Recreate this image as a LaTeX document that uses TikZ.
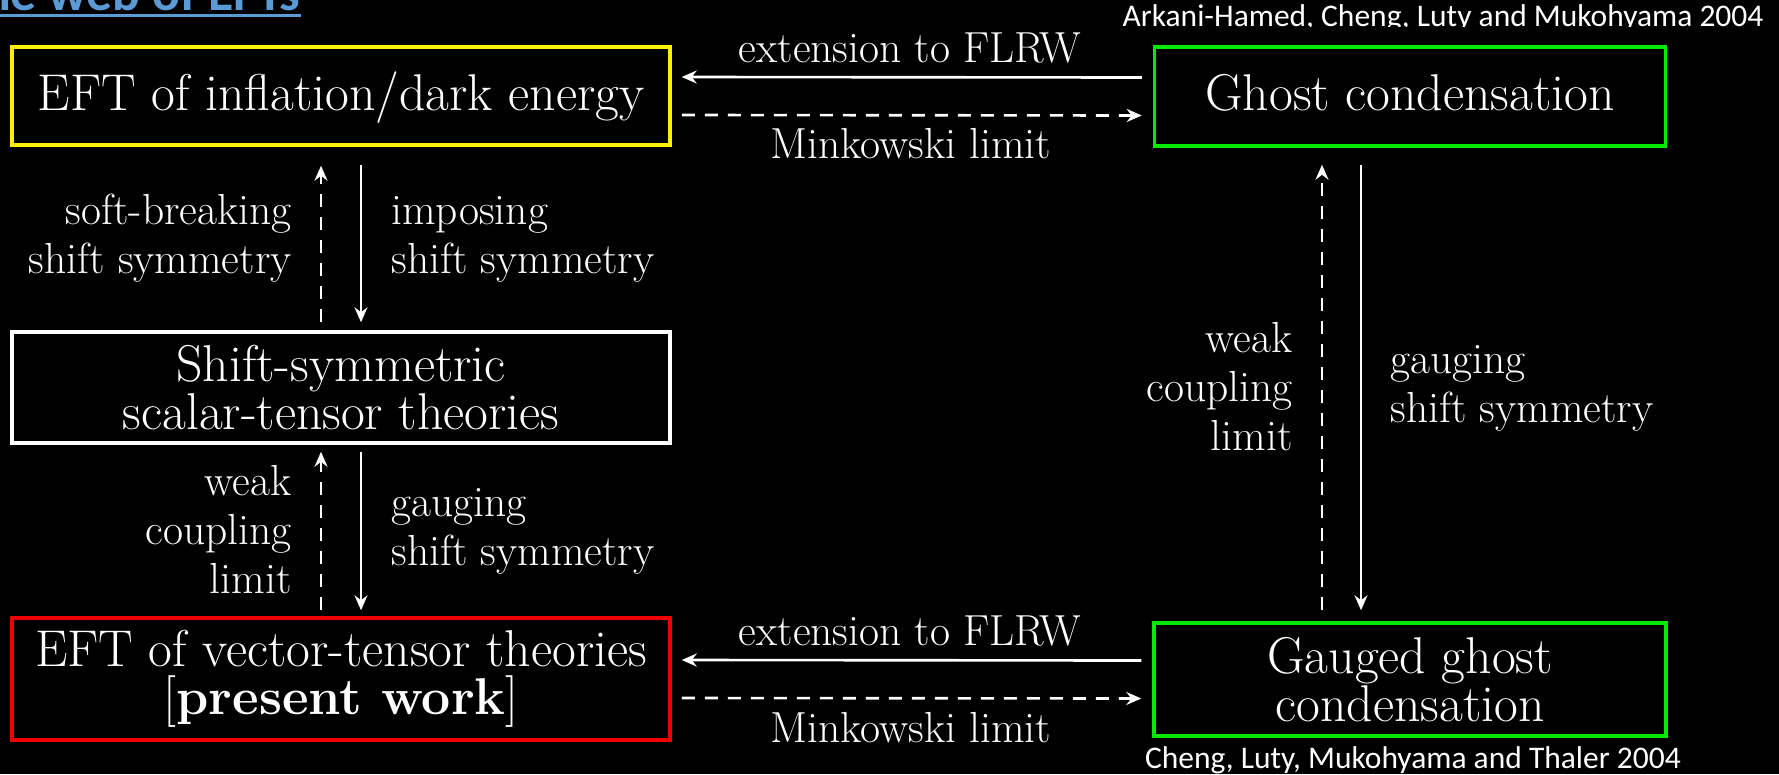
\documentclass[tikz,border=0pt]{standalone}
\usepackage{fontspec}
\newfontfamily\calibri{Carlito}
\usetikzlibrary{arrows.meta}
\definecolor{boxyellow}{RGB}{255,240,0}
\definecolor{boxgreen}{RGB}{0,235,0}
\definecolor{boxred}{RGB}{240,0,0}
\definecolor{titleblue}{RGB}{91,155,213}
\begin{document}
\begin{tikzpicture}[x=0.4pt,y=-0.4pt,
  box/.style={draw, line width=1.4pt, inner sep=0pt, text=white, align=center,
    font=\fontsize{20.7}{19.2}\selectfont},
  lbl/.style={text=white, inner sep=0pt, font=\fontsize{17.4}{19.6}\selectfont},
  sarrow/.style={draw=white, line width=1.05pt, -{Stealth[length=6pt,width=5.2pt,inset=2pt]}},
  darrow/.style={sarrow, dash pattern=on 5.2pt off 4pt},
  cite/.style={text=white, inner sep=0pt, font=\calibri\fontsize{12.6}{15}\selectfont}]
\fill[black] (0,0) rectangle (1779,774);
\useasboundingbox (0,0) rectangle (1779,774);

% title (partly off the page)
\node[anchor=base west, inner sep=0pt, text=titleblue,
  font=\calibri\bfseries\fontsize{20.7}{24}\selectfont] (title) at (-43,10) {The web of EFTs};
\draw[titleblue, line width=1.2pt] ([yshift=-2pt]title.base west) -- ([yshift=-2pt]title.base east);

% boxes
\node[box, draw=boxyellow, minimum width=263.2pt, minimum height=39.2pt,
  text height=14.5pt, text depth=3.3pt] (inf) at (341,96) {EFT of inflation/dark energy};
\node[box, draw=boxgreen, minimum width=204.4pt, minimum height=39.6pt,
  text height=14.5pt, text depth=3.3pt] (ghost) at (1410,96.5) {Ghost condensation};
\node[box, draw=white, minimum width=263.2pt, minimum height=44.4pt] (shift) at (341,387.5)
  {Shift-symmetric\\scalar-tensor theories};
\node[box, draw=boxred, minimum width=263.2pt, minimum height=48.8pt] (vec) at (341,679)
  {EFT of vector-tensor theories\\{}[\textbf{present work}]};
\node[box, draw=boxgreen, minimum width=204.8pt, minimum height=45.2pt] (gghost) at (1410,679.5)
  {Gauged ghost\\condensation};

% horizontal connectors
\draw[sarrow] ([xshift=-4.4pt,yshift=7.6pt]ghost.west) -- ([xshift=4pt,yshift=7.6pt]inf.east);
\draw[darrow] ([xshift=4pt,yshift=-7.6pt]inf.east) -- ([xshift=-4.4pt,yshift=-7.6pt]ghost.west);
\draw[sarrow] ([xshift=-4.4pt,yshift=7.6pt]gghost.west) -- ([xshift=4pt,yshift=7.6pt]vec.east);
\draw[darrow] ([xshift=4pt,yshift=-7.6pt]vec.east) -- ([xshift=-4.4pt,yshift=-7.6pt]gghost.west);

\node[lbl, anchor=base] (ext1) at (910,62) {extension to FLRW};
\node[lbl, anchor=base] (mink1) at (911,158) {Minkowski limit};
\node[lbl, anchor=base] (ext2) at (910,645) {extension to FLRW};
\node[lbl, anchor=base] (mink2) at (911,742) {Minkowski limit};

% left vertical connectors
\draw[darrow] ([xshift=-8pt,yshift=3.2pt]shift.north) -- ([xshift=-8pt,yshift=-7.6pt]inf.south);
\draw[sarrow] ([xshift=8pt,yshift=-7.2pt]inf.south) -- ([xshift=8pt,yshift=3.2pt]shift.north);
\draw[darrow] ([xshift=-8pt,yshift=2.4pt]vec.north) -- ([xshift=-8pt,yshift=-2.8pt]shift.south);
\draw[sarrow] ([xshift=8pt,yshift=-2.8pt]shift.south) -- ([xshift=8pt,yshift=2.4pt]vec.north);

% (base anchor of a multi-line label = baseline of its last line)
\node[lbl, align=right, anchor=base east] (soft) at (292,273) {soft-breaking\\shift symmetry};
\node[lbl, align=left, anchor=base west] (impose) at (391,273) {imposing\\shift symmetry};
\node[lbl, align=right, anchor=base east] (weakL) at (292,593) {weak\\coupling\\limit};
\node[lbl, align=left, anchor=base west] (gaugeL) at (391,565) {gauging\\shift symmetry};

% right vertical connectors
\draw[darrow] ([xshift=-35.2pt,yshift=4.4pt]gghost.north) -- ([xshift=-35.2pt,yshift=-6.8pt]ghost.south);
\draw[sarrow] ([xshift=-19.6pt,yshift=-6.8pt]ghost.south) -- ([xshift=-19.6pt,yshift=4.4pt]gghost.north);

\node[lbl, align=right, anchor=base east] (weakR) at (1293,450) {weak\\coupling\\limit};
\node[lbl, align=left, anchor=base west] (gaugeR) at (1390,422) {gauging\\shift symmetry};

% citations
\begin{scope}
  \clip (1000,0) rectangle (1779,26.5);
  \node[cite, anchor=base] (cite1) at (1443,26) {Arkani-Hamed, Cheng, Luty and Mukohyama 2004};
\end{scope}
\node[cite, anchor=base] (cite2) at (1413,768) {Cheng, Luty, Mukohyama and Thaler 2004};
\end{tikzpicture}
\end{document}
